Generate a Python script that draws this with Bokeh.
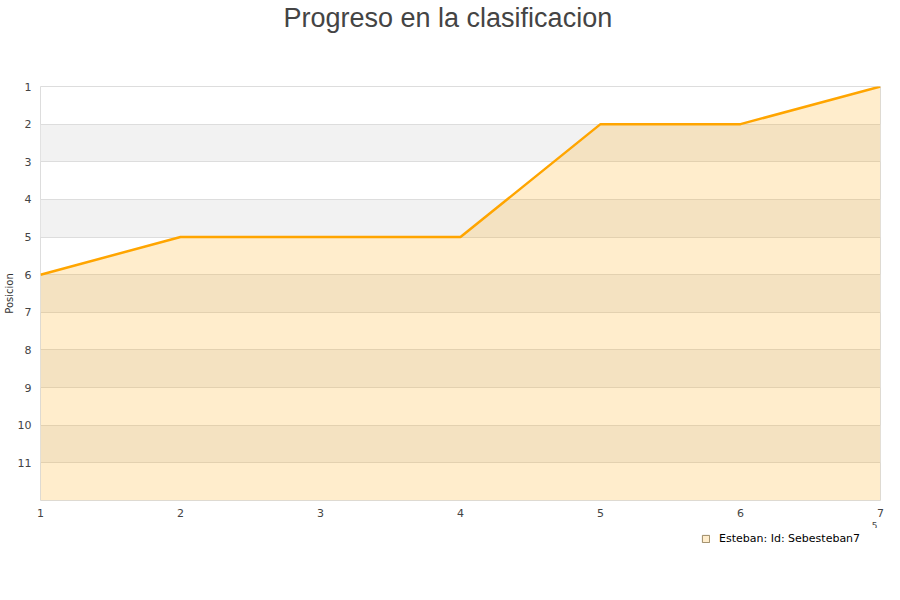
from bokeh.plotting import figure
from bokeh.layouts import column
from bokeh.models import Range1d, FixedTicker, Legend, LegendItem, Title
from bokeh.embed import file_html
from bokeh.resources import INLINE

jornadas = [1, 2, 3, 4, 5, 6, 7]
posiciones = [6, 5, 5, 5, 2, 2, 1]
y_ticks = list(range(1, 13))
x_ticks = [1, 2, 3, 4, 5, 6, 7]
serie = "Esteban: Id: Sebesteban7"
fondo = 12

p = figure(width=884, height=534, output_backend="svg", toolbar_location=None,
           x_range=Range1d(1, 7), y_range=Range1d(12, 1),
           min_border_left=32, min_border_right=12, min_border_top=0, min_border_bottom=0,
           frame_width=840, frame_height=414)

p.title.text = "Progreso en la clasificacion"
p.title.align = "left"
p.title.offset = 243
p.title.text_font = "Liberation Sans"
p.title.text_font_size = "27px"
p.title.text_font_style = "normal"
p.title.text_color = "#444444"
p.title.standoff = 0

# spacer between title and plot area
p.add_layout(Title(text=" ", text_font_size="27px", standoff=22), "above")

p.outline_line_color = "#DDDDDD"
p.background_fill_color = "white"

area = p.varea(x=jornadas, y1=posiciones, y2=[fondo] * len(jornadas),
               fill_color="#FFA500", fill_alpha=0.2)
line = p.line(jornadas, posiciones, line_color="#FFA500", line_width=2.5)

p.xgrid.grid_line_color = None
p.ygrid.grid_line_color = "#DDDDDD"
p.ygrid.band_fill_color = "#F2F2F2"
p.ygrid.band_fill_alpha = 1.0

p.xaxis.ticker = FixedTicker(ticks=x_ticks)
p.yaxis.ticker = FixedTicker(ticks=y_ticks)
p.yaxis.major_label_overrides = {12: ""}
for ax in (p.xaxis, p.yaxis):
    ax.axis_line_color = None
    ax.major_tick_line_color = None
    ax.minor_tick_line_color = None
    ax.major_tick_out = 0
    ax.major_tick_in = 0
    ax.minor_tick_out = 0
    ax.major_label_text_font = "DejaVu Sans"
    ax.major_label_text_font_size = "11px"
    ax.major_label_text_color = "#444444"
p.xaxis.major_label_standoff = 8
p.yaxis.major_label_standoff = 9
p.yaxis.axis_label = "Posicion"
p.yaxis.axis_label_text_font = "DejaVu Sans"
p.yaxis.axis_label_text_font_size = "10px"
p.yaxis.axis_label_text_font_style = "normal"
p.yaxis.axis_label_text_color = "#333333"
p.yaxis.axis_label_standoff = 0

p.add_layout(Title(text="5", align="right", offset=3, text_font="DejaVu Sans",
                   text_font_size="9px", text_font_style="normal",
                   text_color="#444444", standoff=0), "below")

# legend strip below the chart
p2 = figure(width=884, height=40, output_backend="svg", toolbar_location=None,
            x_range=Range1d(0, 1), y_range=Range1d(0, 1),
            x_axis_location=None, y_axis_location=None,
            min_border_left=0, min_border_right=0, min_border_top=0, min_border_bottom=0)
p2.outline_line_color = None
p2.grid.visible = False
dummy = p2.quad(left=[-3], right=[-2], bottom=[-3], top=[-2],
                fill_color="#FFEDCC", line_color="#9c8a66")
legend = Legend(items=[LegendItem(label=serie, renderers=[dummy])],
                location=(661, 23), orientation="horizontal",
                border_line_color=None, background_fill_alpha=0,
                label_text_font="DejaVu Sans", label_text_font_size="11px",
                label_text_color="#000000", label_height=13,
                glyph_width=9, glyph_height=9, label_standoff=9, padding=2, margin=0)
p2.add_layout(legend, "center")

open("out.html", "w").write(file_html(column(p, p2, spacing=0), INLINE))
